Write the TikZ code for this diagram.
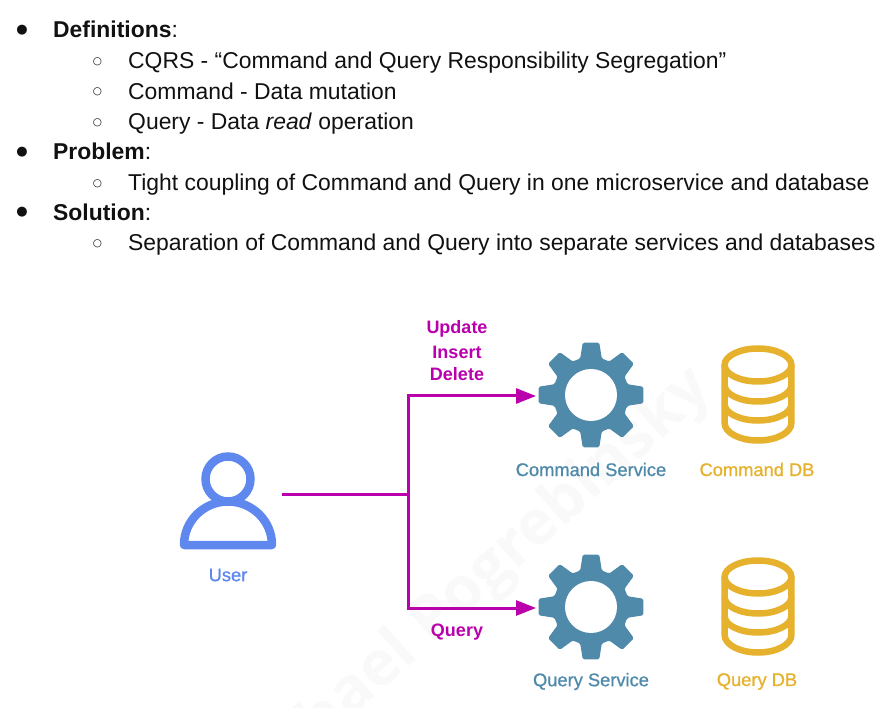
\documentclass[tikz,border=0pt]{standalone}
\usepackage{fontspec}
\setmainfont{Liberation Sans}
\newfontfamily\symb{DejaVu Sans}
\newfontfamily\capf[FakeBold=0.9]{Liberation Sans}
\newfontfamily\wmf{Open Sans}
\usetikzlibrary{arrows.meta,calc}
\definecolor{mag}{HTML}{B900AC}
\definecolor{gearc}{HTML}{4F8AAB}
\definecolor{dbc}{HTML}{E6B22E}
\definecolor{userc}{HTML}{5F88EE}
\definecolor{ink}{HTML}{111111}
\tikzset{
 x=1pt,y=-1pt,
 body/.style={anchor=base west,inner sep=0,font=\fontsize{22.9}{23}\selectfont,text=ink},
 bigdot/.style={anchor=center,inner sep=0,font=\symb\fontsize{13}{13}\selectfont,text=ink},
 smalldot/.style={anchor=center,inner sep=0,font=\symb\fontsize{10.5}{10.5}\selectfont,text=ink},
 iconbox/.style={minimum width=108pt,minimum height=108pt,inner sep=0,outer sep=0},
 caption/.style={anchor=center,inner sep=0,font=\capf\fontsize{18.3}{18.3}\selectfont},
 flowlabel/.style={anchor=center,inner sep=0,text=mag,font=\fontsize{18}{18}\selectfont\bfseries},
 flow/.style={draw=mag,line width=3pt},
 flowarrow/.style={flow,-{Triangle[length=20pt,width=15pt]}},
}
\newcommand{\gearicon}[1]{%
 \begin{scope}[shift={(#1)}]
  \fill[gearc,rounded corners=1.5pt] (22.5:38)
   \foreach \a in {45,90,...,360}{
    -- (\a-16.5:38) -- (\a-9:53) -- (\a+9:53) -- (\a+16.5:38) -- (\a+22.5:38)
   } -- cycle;
  \fill[white] (0,0) circle[radius=26];
 \end{scope}}
\newcommand{\dbicon}[1]{%
 \begin{scope}[shift={(#1)},draw=dbc,line width=6.5pt]
  \draw (0,-30) ellipse[x radius=33.4,y radius=16.5];
  \draw (-33.4,-30) -- (-33.4,28) arc[start angle=180,end angle=360,x radius=33.4,y radius=-17.5] -- (33.4,-30);
  \draw (-33.4,-10) arc[start angle=180,end angle=360,x radius=33.4,y radius=-16.5];
  \draw (-33.4,9) arc[start angle=180,end angle=360,x radius=33.4,y radius=-16.5];
 \end{scope}}
\begin{document}
\begin{tikzpicture}
\useasboundingbox (0,0) rectangle (892,708);
\clip (0,0) rectangle (892,708);
% text block
\node[bigdot] (b1) at (22,30) {●};
\node[body] (t1) at (53,38) {\textbf{Definitions}:};
\node[smalldot] (c1) at (97.5,61.5) {○};
\node[body] (t2) at (128,69) {CQRS - “Command and Query Responsibility Segregation”};
\node[smalldot] (c2) at (97.5,91.5) {○};
\node[body] (t3) at (128,99.5) {Command - Data mutation};
\node[smalldot] (c3) at (97.5,122.5) {○};
\node[body] (t4) at (128,130) {Query - Data \textit{read} operation};
\node[bigdot] (b2) at (22,152) {●};
\node[body] (t5) at (53,160) {\textbf{Problem}:};
\node[smalldot] (c4) at (97.5,183.5) {○};
\node[body] (t6) at (128,191) {Tight coupling of Command and Query in one microservice and database};
\node[bigdot] (b3) at (22,212) {●};
\node[body] (t7) at (53,220.5) {\textbf{Solution}:};
\node[smalldot] (c5) at (97.5,243.5) {○};
\node[body] (t8) at (128,251) {Separation of Command and Query into separate services and databases};
% icon holders
\node[iconbox] (user) at (228,495) {};
\node[iconbox] (cmd) at (590,396) {};
\node[iconbox] (qry) at (590,608) {};
% user
\draw[userc,line width=8.5pt] (228,479) circle[radius=22.5];
\draw[userc,line width=8.5pt,line join=round] (184,545) arc[start angle=180,end angle=360,x radius=44,y radius=43.5] -- cycle;
\gearicon{591,395}
\gearicon{591,607}
\dbicon{758,395}
\dbicon{758,607}
% connectors
\coordinate (split) at (408.5,495);
\draw[flow] (user.east) -- (split);
\draw[flowarrow] (split) |- (cmd.west);
\draw[flowarrow] (split) |- (qry.west);
% labels
\node[flowlabel] (l1) at (457,329) {Update};
\node[flowlabel] (l2) at (457,352) {Insert};
\node[flowlabel] (l3) at (457,374) {Delete};
\node[flowlabel] (l4) at (457,632) {Query};
\node[caption,text=userc] (n1) at (228,575) {User};
\node[caption,text=gearc] (n2) at (591,469.5) {Command Service};
\node[caption,text=dbc] (n3) at (757,469.5) {Command DB};
\node[caption,text=gearc] (n4) at (591,681.5) {Query Service};
\node[caption,text=dbc] (n5) at (757,681.5) {Query DB};
% watermark
\node[anchor=base east,inner sep=0,rotate=42,opacity=0.05,text=gray,font=\wmf\fontsize{62}{62}\selectfont\bfseries] (wm) at (714,392) {hael Pogrebinsky};
\end{tikzpicture}
\end{document}
